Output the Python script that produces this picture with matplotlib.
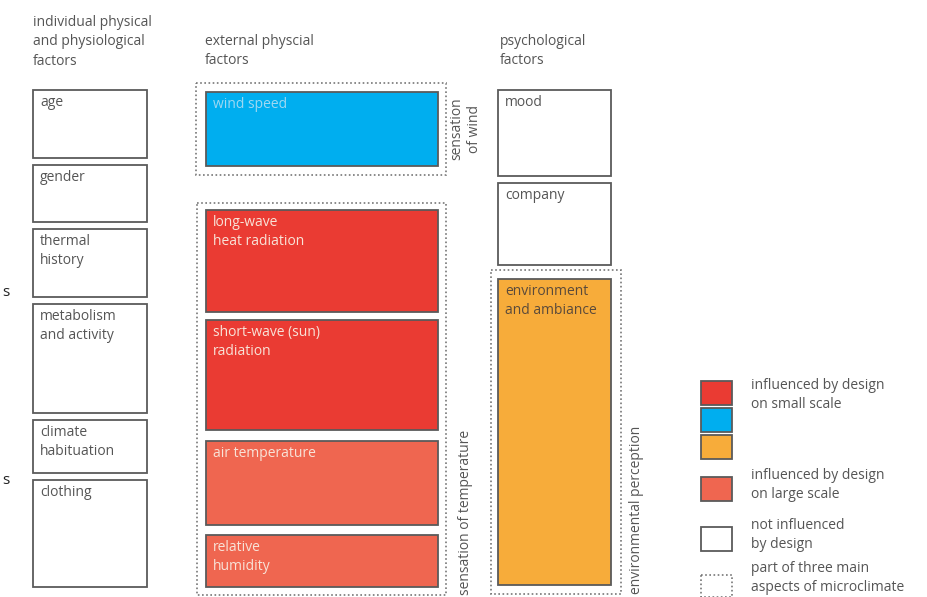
import matplotlib.pyplot as plt
from matplotlib.patches import Rectangle

# column headers
headers = ["individual physical\nand physiological\nfactors", "external physcial\nfactors", "psychological\nfactors"]
header_x = [33, 205, 500]
header_y = [15, 34, 34]

# left column: individual factors (not influenced by design)
left_labels = ["age", "gender", "thermal\nhistory", "metabolism\nand activity", "climate\nhabituation", "clothing"]
left_top = [90, 165, 229, 304, 420, 480]
left_bottom = [158, 222, 297, 413, 473, 587]

# middle column: external physical factors
mid_labels = ["wind speed", "long-wave\nheat radiation", "short-wave (sun)\nradiation", "air temperature", "relative\nhumidity"]
mid_top = [92, 210, 320, 441, 535]
mid_bottom = [166, 312, 430, 525, 587]
mid_kind = ["blue", "red", "red", "light", "light"]

# right column: psychological factors
right_labels = ["mood", "company", "environment\nand ambiance"]
right_top = [90, 183, 279]
right_bottom = [176, 265, 585]
right_kind = ["white", "white", "orange"]

# dotted groups (three main aspects of microclimate)
groups = ["sensation\nof wind", "sensation of temperature", "environmental perception"]
group_x0 = [196, 197, 491]
group_x1 = [446, 446, 621]
group_y0 = [83, 203, 270]
group_y1 = [175, 595, 594]

# legend
legend_kind = ["red", "blue", "orange", "light", "white", "dotted"]
legend_top = [381, 408, 435, 477, 527, 575]
legend_text = ["influenced by design\non small scale", "influenced by design\non large scale",
               "not influenced\nby design", "part of three main\naspects of microclimate"]
legend_text_y = [378, 468, 518, 561]

colors = {"red": "#EA3B33", "blue": "#00AEEF", "orange": "#F7AC3A", "light": "#EF6650", "white": "white"}
txt_colors = {"red": "#F8E3D8", "blue": "#9ED8F2", "orange": "#5a4a3a", "light": "#F8E3D8", "white": "#555555"}
edge = "#5a5a5a"
grey = "#555555"

plt.rcParams['font.family'] = ['Open Sans', 'DejaVu Sans']

fig = plt.figure(figsize=(9.27, 5.97), dpi=100)
ax = fig.add_axes([0, 0, 1, 1])
ax.set_xlim(0, 927)
ax.set_ylim(597, 0)
ax.axis('off')

fs = 10
ls = 1.4


def box(x0, x1, y0, y1, kind, label):
    ax.add_patch(Rectangle((x0, y0), x1 - x0, y1 - y0, facecolor=colors[kind],
                           edgecolor=edge, linewidth=1.3, zorder=2))
    ax.text(x0 + 7, y0 + 5, label, ha='left', va='top', fontsize=fs,
            color=txt_colors[kind], linespacing=ls, zorder=3)


for h, x, y in zip(headers, header_x, header_y):
    ax.text(x, y, h, ha='left', va='top', fontsize=fs, color=grey, linespacing=ls)

for lab, t, b in zip(left_labels, left_top, left_bottom):
    box(33, 147, t, b, "white", lab)

for lab, t, b, k in zip(mid_labels, mid_top, mid_bottom, mid_kind):
    box(206, 438, t, b, k, lab)

for lab, t, b, k in zip(right_labels, right_top, right_bottom, right_kind):
    box(498, 611, t, b, k, lab)

for g, x0, x1, y0, y1 in zip(groups, group_x0, group_x1, group_y0, group_y1):
    ax.add_patch(Rectangle((x0, y0), x1 - x0, y1 - y0, facecolor='none', edgecolor='#777777',
                           linewidth=1.2, linestyle=(0, (1, 1.5)), zorder=1))

# rotated group labels
ax.text(466, 129, groups[0], rotation=90, ha='center', va='center', fontsize=fs,
        color=grey, linespacing=1.25)
ax.text(466, 595, groups[1], rotation=90, ha='center', va='bottom', fontsize=fs, color=grey)
ax.text(637, 594, groups[2], rotation=90, ha='center', va='bottom', fontsize=fs, color=grey)

# legend swatches
for k, t in zip(legend_kind, legend_top):
    if k == "dotted":
        ax.add_patch(Rectangle((701, t), 31, 22, facecolor='none', edgecolor='#777777',
                               linewidth=1.2, linestyle=(0, (1, 1.5))))
    else:
        ax.add_patch(Rectangle((701, t), 31, 24, facecolor=colors[k], edgecolor=edge, linewidth=1.3))

for s, y in zip(legend_text, legend_text_y):
    ax.text(751, y, s, ha='left', va='top', fontsize=fs, color=grey, linespacing=ls)

# text fragments at the left edge
for y in [292, 481]:
    ax.text(2, y, "s", ha='left', va='center', fontsize=11, color='#222222')

fig.savefig("out.png", dpi=100)
